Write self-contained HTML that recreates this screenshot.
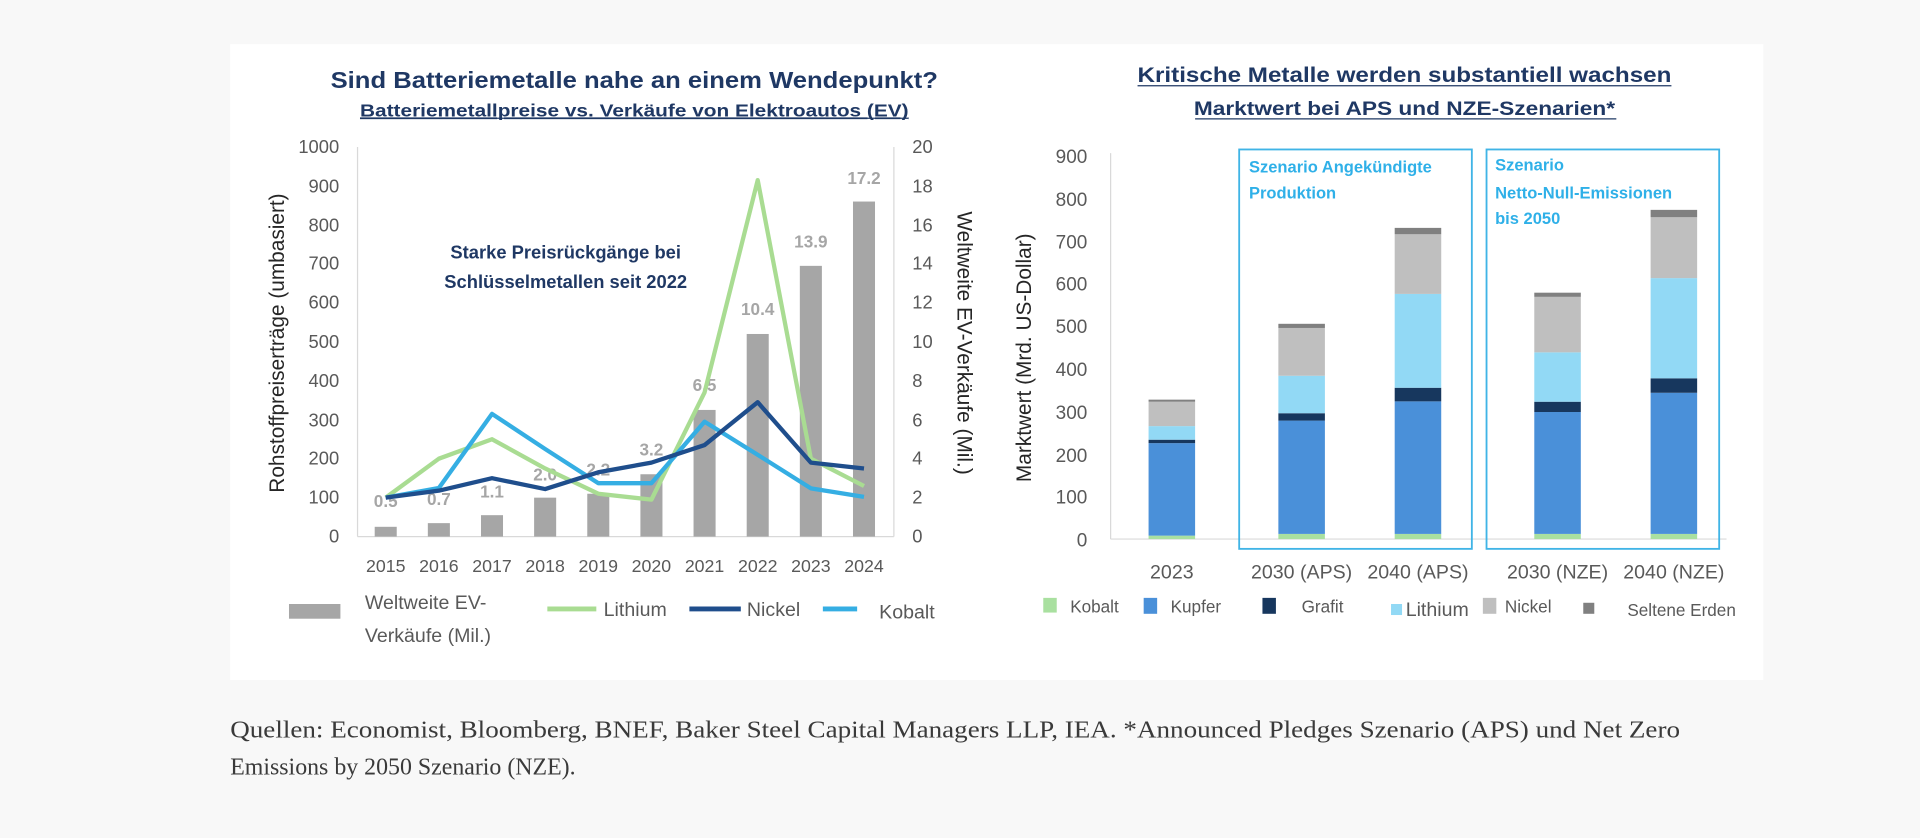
<!DOCTYPE html>
<html><head><meta charset="utf-8"><style>
html,body{margin:0;padding:0;background:#f8f8f8;width:1920px;height:838px;overflow:hidden}
svg{display:block}
text{font-family:"Liberation Sans",sans-serif}
</style></head><body>
<svg width="1920" height="838" viewBox="0 0 1568 684" preserveAspectRatio="none" xmlns="http://www.w3.org/2000/svg">
<rect x="0" y="0" width="1568" height="684" fill="#f8f8f8"/>
<rect x="188" y="36" width="1252" height="519" fill="#ffffff"/>

<!-- LEFT CHART -->
<text x="518" y="72" text-anchor="middle" font-size="19" font-weight="bold" fill="#1f3864" textLength="496" lengthAdjust="spacingAndGlyphs">Sind Batteriemetalle nahe an einem Wendepunkt?</text>
<text x="518" y="95" text-anchor="middle" font-size="14.5" font-weight="bold" fill="#1f3864" textLength="448" lengthAdjust="spacingAndGlyphs" text-decoration="underline">Batteriemetallpreise vs. Verkäufe von Elektroautos (EV)</text>
<line x1="294" y1="96.5" x2="742" y2="96.5" stroke="#1f3864" stroke-width="1"/>

<g font-size="15" fill="#595959" text-anchor="end">
<text x="277" y="125">1000</text><text x="277" y="157">900</text><text x="277" y="189">800</text><text x="277" y="220">700</text><text x="277" y="252">600</text><text x="277" y="284">500</text><text x="277" y="316">400</text><text x="277" y="348">300</text><text x="277" y="379">200</text><text x="277" y="411">100</text><text x="277" y="443">0</text>
</g>
<g font-size="15" fill="#595959" text-anchor="start">
<text x="745" y="125">20</text><text x="745" y="157">18</text><text x="745" y="189">16</text><text x="745" y="220">14</text><text x="745" y="252">12</text><text x="745" y="284">10</text><text x="745" y="316">8</text><text x="745" y="348">6</text><text x="745" y="379">4</text><text x="745" y="411">2</text><text x="745" y="443">0</text>
</g>
<line x1="292" y1="120" x2="292" y2="438" stroke="#d9d9d9"/>
<line x1="730" y1="120" x2="730" y2="438" stroke="#d9d9d9"/>
<line x1="292" y1="438" x2="730" y2="438" stroke="#d9d9d9"/>
<text transform="translate(232,280) rotate(-90)" text-anchor="middle" font-size="17" fill="#262626">Rohstoffpreiserträge (umbasiert)</text>
<text transform="translate(782,280) rotate(90)" text-anchor="middle" font-size="17" fill="#262626">Weltweite EV-Verkäufe (Mil.)</text>

<g fill="#a6a6a6">
<rect x="306" y="430" width="18" height="8"/>
<rect x="349.4" y="427" width="18" height="11"/>
<rect x="392.8" y="420.5" width="18" height="17.5"/>
<rect x="436.2" y="406.2" width="18" height="31.8"/>
<rect x="479.6" y="403" width="18" height="35"/>
<rect x="523" y="387.1" width="18" height="50.9"/>
<rect x="566.4" y="334.6" width="18" height="103.4"/>
<rect x="609.8" y="272.6" width="18" height="165.4"/>
<rect x="653.2" y="217" width="18" height="221"/>
<rect x="696.6" y="164.5" width="18" height="273.5"/>
</g>
<g font-size="14" font-weight="bold" fill="#a6a6a6" text-anchor="middle">
<text x="315" y="414">0.5</text><text x="358.4" y="412">0.7</text><text x="401.8" y="406">1.1</text><text x="445.2" y="392">2.0</text><text x="488.6" y="388">2.2</text><text x="532" y="372">3.2</text><text x="575.4" y="319">6.5</text><text x="618.8" y="257">10.4</text><text x="662.2" y="202">13.9</text><text x="705.6" y="150">17.2</text>
</g>

<polyline fill="none" stroke="#a9dc92" stroke-width="3.5" stroke-linejoin="round" points="315,406.2 358.4,374.4 401.8,358.5 445.2,382.4 488.6,403 532,407.8 575.4,320.3 618.8,147 662.2,374.4 705.6,396.7"/>
<polyline fill="none" stroke="#35aee3" stroke-width="3.5" stroke-linejoin="round" points="315,406.2 358.4,398.3 401.8,337.8 445.2,366.5 488.6,394.4 532,394.4 575.4,344.2 618.8,371.2 662.2,398.6 705.6,405.6"/>
<polyline fill="none" stroke="#1f4e8c" stroke-width="3.5" stroke-linejoin="round" points="315,406.2 358.4,400.5 401.8,390.3 445.2,399.2 488.6,385.5 532,377.6 575.4,363.3 618.8,328.3 662.2,377.6 705.6,382.4"/>

<text x="462" y="211" text-anchor="middle" font-size="15" font-weight="bold" fill="#1f3864">Starke Preisrückgänge bei</text>
<text x="462" y="235" text-anchor="middle" font-size="15" font-weight="bold" fill="#1f3864">Schlüsselmetallen seit 2022</text>

<g font-size="14.5" fill="#595959" text-anchor="middle">
<text x="315" y="467">2015</text><text x="358.4" y="467">2016</text><text x="401.8" y="467">2017</text><text x="445.2" y="467">2018</text><text x="488.6" y="467">2019</text><text x="532" y="467">2020</text><text x="575.4" y="467">2021</text><text x="618.8" y="467">2022</text><text x="662.2" y="467">2023</text><text x="705.6" y="467">2024</text>
</g>

<rect x="236" y="493" width="42" height="12" fill="#a6a6a6"/>
<text x="298" y="497" font-size="16" fill="#595959">Weltweite EV-</text>
<text x="298" y="524" font-size="16" fill="#595959">Verkäufe (Mil.)</text>
<line x1="447" y1="497" x2="487" y2="497" stroke="#a9dc92" stroke-width="4"/>
<text x="493" y="503" font-size="16" fill="#595959">Lithium</text>
<line x1="563" y1="497" x2="605" y2="497" stroke="#1f4e8c" stroke-width="4"/>
<text x="610" y="503" font-size="16" fill="#595959">Nickel</text>
<line x1="672" y1="497" x2="700" y2="497" stroke="#35aee3" stroke-width="4"/>
<text x="718" y="505" font-size="16" fill="#595959">Kobalt</text>

<!-- RIGHT CHART -->
<text x="1147" y="67" text-anchor="middle" font-size="17" font-weight="bold" fill="#1f3864" textLength="436" lengthAdjust="spacingAndGlyphs">Kritische Metalle werden substantiell wachsen</text>
<line x1="929" y1="70" x2="1365" y2="70" stroke="#1f3864" stroke-width="1"/>
<text x="1147" y="94" text-anchor="middle" font-size="15.5" font-weight="bold" fill="#1f3864" textLength="344" lengthAdjust="spacingAndGlyphs">Marktwert bei APS und NZE-Szenarien*</text>
<line x1="976" y1="97" x2="1320" y2="97" stroke="#1f3864" stroke-width="1"/>

<g font-size="15.5" fill="#595959" text-anchor="end">
<text x="888" y="133">900</text><text x="888" y="168">800</text><text x="888" y="203">700</text><text x="888" y="237">600</text><text x="888" y="272">500</text><text x="888" y="307">400</text><text x="888" y="342">300</text><text x="888" y="377">200</text><text x="888" y="411">100</text><text x="888" y="446">0</text>
</g>
<line x1="907" y1="125" x2="907" y2="440" stroke="#d9d9d9"/>
<line x1="907" y1="440" x2="1410" y2="440" stroke="#d9d9d9"/>
<text transform="translate(842,292) rotate(-90)" text-anchor="middle" font-size="17" fill="#262626">Marktwert (Mrd. US-Dollar)</text>

<rect x="1012" y="122" width="190" height="326" fill="none" stroke="#40b4e6" stroke-width="1.5"/>
<rect x="1214" y="122" width="190" height="326" fill="none" stroke="#40b4e6" stroke-width="1.5"/>
<g font-size="13.5" font-weight="bold" fill="#2fb0e8">
<text x="1020" y="141">Szenario Angekündigte</text>
<text x="1020" y="162">Produktion</text>
<text x="1221" y="139">Szenario</text>
<text x="1221" y="162">Netto-Null-Emissionen</text>
<text x="1221" y="183">bis 2050</text>
</g>

<!-- stacks: y(v)=440-0.348v -->
<g>
<!-- 2023 x=938 -->
<rect x="938" y="437.2" width="38" height="2.8" fill="#a9e0a0"/>
<rect x="938" y="361.7" width="38" height="75.5" fill="#4a90d9"/>
<rect x="938" y="358.9" width="38" height="2.8" fill="#17375e"/>
<rect x="938" y="347.8" width="38" height="11.1" fill="#92d9f5"/>
<rect x="938" y="327.9" width="38" height="19.9" fill="#bfbfbf"/>
<rect x="938" y="326.2" width="38" height="1.7" fill="#808080"/>
<!-- 2030 APS x=1044 -->
<rect x="1044" y="435.8" width="38" height="4.2" fill="#a9e0a0"/>
<rect x="1044" y="343.3" width="38" height="92.5" fill="#4a90d9"/>
<rect x="1044" y="337.3" width="38" height="6" fill="#17375e"/>
<rect x="1044" y="306.7" width="38" height="30.6" fill="#92d9f5"/>
<rect x="1044" y="267.7" width="38" height="39" fill="#bfbfbf"/>
<rect x="1044" y="264.3" width="38" height="3.4" fill="#808080"/>
<!-- 2040 APS x=1139 -->
<rect x="1139" y="435.8" width="38" height="4.2" fill="#a9e0a0"/>
<rect x="1139" y="327.6" width="38" height="108.2" fill="#4a90d9"/>
<rect x="1139" y="316.5" width="38" height="11.1" fill="#17375e"/>
<rect x="1139" y="239.9" width="38" height="76.6" fill="#92d9f5"/>
<rect x="1139" y="191.2" width="38" height="48.7" fill="#bfbfbf"/>
<rect x="1139" y="186" width="38" height="5.2" fill="#808080"/>
<!-- 2030 NZE x=1253 -->
<rect x="1253" y="435.8" width="38" height="4.2" fill="#a9e0a0"/>
<rect x="1253" y="336.3" width="38" height="99.5" fill="#4a90d9"/>
<rect x="1253" y="327.9" width="38" height="8.4" fill="#17375e"/>
<rect x="1253" y="287.6" width="38" height="40.3" fill="#92d9f5"/>
<rect x="1253" y="242.3" width="38" height="45.3" fill="#bfbfbf"/>
<rect x="1253" y="238.9" width="38" height="3.4" fill="#808080"/>
<!-- 2040 NZE x=1348 -->
<rect x="1348" y="435.8" width="38" height="4.2" fill="#a9e0a0"/>
<rect x="1348" y="320.6" width="38" height="115.2" fill="#4a90d9"/>
<rect x="1348" y="308.8" width="38" height="11.8" fill="#17375e"/>
<rect x="1348" y="227" width="38" height="81.8" fill="#92d9f5"/>
<rect x="1348" y="177.3" width="38" height="49.7" fill="#bfbfbf"/>
<rect x="1348" y="171.3" width="38" height="6" fill="#808080"/>
</g>

<g font-size="16" fill="#595959" text-anchor="middle">
<text x="957" y="472">2023</text><text x="1063" y="472">2030 (APS)</text><text x="1158" y="472">2040 (APS)</text><text x="1272" y="472">2030 (NZE)</text><text x="1367" y="472">2040 (NZE)</text>
</g>

<g font-size="14" fill="#595959">
<rect x="852" y="488" width="11" height="12" fill="#a9e0a0"/><text x="874" y="500">Kobalt</text>
<rect x="934" y="488" width="11" height="13" fill="#4a90d9"/><text x="956" y="500">Kupfer</text>
<rect x="1031" y="488" width="11" height="13" fill="#17375e"/><text x="1063" y="500">Grafit</text>
<rect x="1136" y="493" width="9" height="9" fill="#92d9f5"/><text x="1148" y="503" font-size="16">Lithium</text>
<rect x="1211" y="488" width="11" height="13" fill="#bfbfbf"/><text x="1229" y="500">Nickel</text>
<rect x="1293" y="492" width="9" height="9" fill="#808080"/><text x="1329" y="503">Seltene Erden</text>
</g>

<!-- caption -->
<g font-family="Liberation Serif, serif" font-size="19.5" fill="#3a3a3a">
<text x="188" y="602" style="font-family:'Liberation Serif',serif" textLength="1184" lengthAdjust="spacingAndGlyphs">Quellen: Economist, Bloomberg, BNEF, Baker Steel Capital Managers LLP, IEA. *Announced Pledges Szenario (APS) und Net Zero</text>
<text x="188" y="632" style="font-family:'Liberation Serif',serif">Emissions by 2050 Szenario (NZE).</text>
</g>
</svg>
</body></html>
